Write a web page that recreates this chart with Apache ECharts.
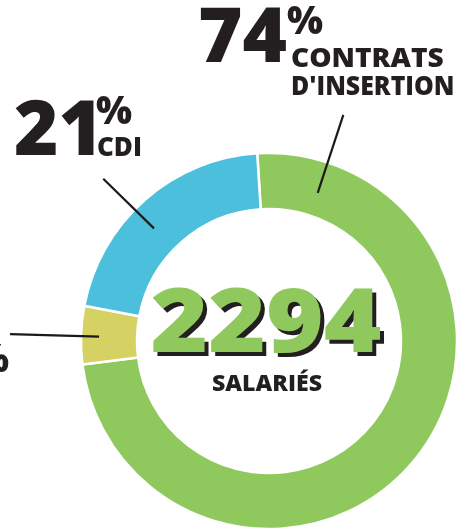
<!DOCTYPE html>
<html><head><meta charset="utf-8">
<script src="https://cdn.jsdelivr.net/npm/echarts@6/dist/echarts.min.js"></script>
<style>html,body{margin:0;padding:0;background:#fff}#c{width:470px;height:531px}</style>
</head><body><div id="c"></div>
<script>
const categories = ['CONTRATS D\'INSERTION', 'AUTRES', 'CDI'];
const values = [74, 5, 21];
const colors = ['#8fc85c', '#d5d163', '#4cbfdc'];
const totalLabel = '2294';
const totalCaption = 'SALARIÉS';

const chart = echarts.init(document.getElementById('c'));
const cx = 269, cy = 341, rIn = 132, rOut = 188;
function pt(angleDeg, r) {
  const a = angleDeg * Math.PI / 180;
  return [cx + r * Math.cos(a), cy - r * Math.sin(a)];
}
function leader(angle, r1, r2) {
  const p1 = pt(angle, r1), p2 = pt(angle, r2);
  return {type: 'line', shape: {x1: p1[0], y1: p1[1], x2: p2[0], y2: p2[1]},
    style: {stroke: '#1a1a1a', lineWidth: 2.2}, z: 10};
}
const F = '"Open Sans", Lato, sans-serif';
function txt(x, y, text, size, extra, el) {
  return Object.assign({type: 'text', x: x, y: y, z: 10,
    style: Object.assign({text: text, font: '800 ' + size + 'px ' + F, fill: '#231f20'}, extra || {})}, el || {});
}
chart.setOption({
  animation: false,
  series: [{
    type: 'pie',
    center: [cx, cy],
    radius: [rIn, rOut],
    startAngle: 93.6,
    clockwise: true,
    label: {show: false},
    labelLine: {show: false},
    itemStyle: {borderColor: '#fff', borderWidth: 2.5},
    data: categories.map((c, i) => ({name: c, value: values[i], itemStyle: {color: colors[i]}}))
  }],
  graphic: [
    leader(71.8, 156, 238),
    leader(135.6, 161, 232),
    leader(178.5, 170, 259),
    txt(198, 2, String(values[0]), 76, {textVerticalAlign: 'top'}),
    txt(287, 4, '%', 38),
    txt(291, 46, 'CONTRATS', 27, {}, {scaleX: 1.04}),
    txt(291, 74, 'D\'INSERTION', 27, {}, {scaleX: 0.92}),
    txt(14, 95, String(values[2]), 76),
    txt(96, 94, '%', 38),
    txt(97, 136, 'CDI', 26),
    txt(9, 342, '%', 38, {textAlign: 'right'}),
    txt(270, 331, totalLabel, 88, {textAlign: 'center', textVerticalAlign: 'middle', fill: '#231f20'}, {scaleX: 1.12, originX: 0}),
    txt(266, 327, totalLabel, 88, {textAlign: 'center', textVerticalAlign: 'middle', fill: '#8fc85c'}, {scaleX: 1.12, originX: 0}),
    txt(267, 385, totalCaption, 22, {textAlign: 'center', textVerticalAlign: 'middle'}, {scaleX: 1.05})
  ]
});
</script></body></html>
